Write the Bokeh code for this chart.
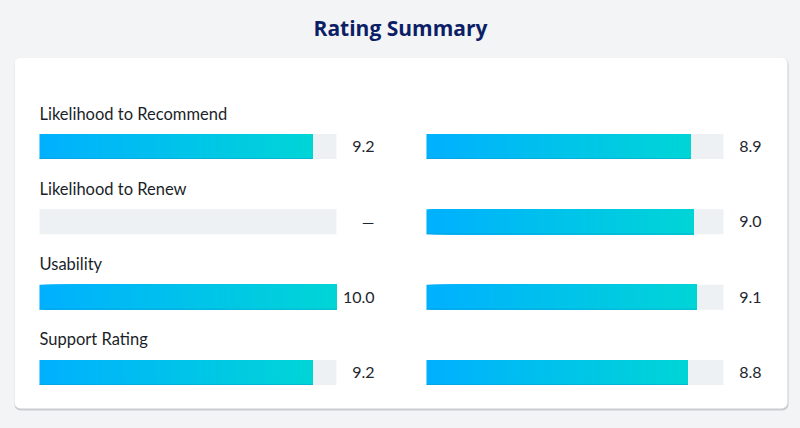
from bokeh.plotting import figure
from bokeh.models import Range1d, ColumnDataSource, BoxAnnotation, Label, GlobalInlineStyleSheet
from bokeh.core.properties import value
from bokeh.embed import file_html
from bokeh.resources import INLINE

# ---- data ----
title_text = "Rating Summary"
categories = ["Likelihood to Recommend", "Likelihood to Renew", "Usability", "Support Rating"]
left_scores = [9.2, None, 10.0, 9.2]
right_scores = [8.9, 9.0, 9.1, 8.8]
max_score = 10.0
missing_text = "—"

# ---- layout constants (pixels) ----
W, H = 800, 428
PX = 29.7          # pixels per rating unit
X0 = 39            # left track start, px
ROW = 75.33        # pixels per row
Y0 = 146           # row 0 centre, px
RIGHT_COL_PX = 426 # right track start, px
BAR_H = 25

def fx(px):
    return (px - X0) / PX

def fy(py):
    return (py - Y0) / ROW

right_off = fx(RIGHT_COL_PX)

p = figure(width=W, height=H, output_backend="svg", toolbar_location=None,
           x_range=Range1d(fx(0), fx(W)), y_range=Range1d(fy(H), fy(0)),
           min_border=0, outline_line_color=None)
p.axis.visible = False
p.grid.visible = False
p.background_fill_color = "#f3f4f6"
p.border_fill_color = "#f3f4f6"
p.stylesheets = [GlobalInlineStyleSheet(css="body { background: #f3f4f6; }")]

# card shadow + card
p.add_layout(BoxAnnotation(left=fx(14), right=fx(788), top=fy(58), bottom=fy(410),
                           fill_color="#c8c8cc", fill_alpha=0.9, line_color=None,
                           border_radius=6, level="underlay"))
p.add_layout(BoxAnnotation(left=fx(14), right=fx(787), top=fy(57), bottom=fy(408),
                           fill_color="#ffffff", fill_alpha=1.0, line_color="#e4e5e8",
                           line_width=1, border_radius=6, level="underlay"))

# title
p.add_layout(Label(x=fx(400), y=fy(27), text=title_text, text_align="center",
                   text_baseline="middle", text_font="Open Sans", text_font_style="bold",
                   text_font_size="21px", text_color="#0c1f66"))

half = (BAR_H / 2) / ROW
rows = list(range(len(categories)))

# tracks
tl, tr, tt, tb = [], [], [], []
for off in (0.0, right_off):
    for r in rows:
        tl.append(off); tr.append(off + max_score); tt.append(r - half); tb.append(r + half)
p.quad(left=tl, right=tr, top=tt, bottom=tb, fill_color="#edf1f4", line_color=None)

# gradient bars: layered slices, each running to the bar end, so no seams
c0 = (0, 176, 255)
c1 = (0, 213, 214)
N = 90
gl, gr, gt, gb, gc = [], [], [], [], []
for i in range(N):
    t = (i + 0.5) / N
    col = "#%02x%02x%02x" % tuple(int(round(a + (b - a) * t)) for a, b in zip(c0, c1))
    for off, scores in ((0.0, left_scores), (right_off, right_scores)):
        for r, v in zip(rows, scores):
            if v is None:
                continue
            gl.append(off + v * i / N)
            gr.append(off + v)
            gt.append(r - half)
            gb.append(r + half)
            gc.append(col)
p.quad(left=gl, right=gr, top=gt, bottom=gb, fill_color=gc, line_color=None)

# thin darker bottom edge
el, er, ey = [], [], []
for off, scores in ((0.0, left_scores), (right_off, right_scores)):
    for r, v in zip(rows, scores):
        if v is None:
            continue
        el.append(off); er.append(off + v); ey.append(r + half - 0.5 / ROW)
p.segment(x0=el, x1=er, y0=ey, y1=ey, line_color="#0a9ccc", line_alpha=0.5, line_width=1)

# category labels
lab_src = ColumnDataSource(dict(x=[0.0] * len(rows), y=[r - 33 / ROW for r in rows], text=categories))
p.text(x="x", y="y", text="text", source=lab_src, text_font=value("Lato"),
       text_font_size="16.5px", text_color="#1b1f2a", text_baseline="middle", text_align="left")

# value labels
vx, vy, vt = [], [], []
for off, scores in ((0.0, left_scores), (right_off, right_scores)):
    for r, v in zip(rows, scores):
        vx.append(off + max_score + 38 / PX)
        vy.append(r)
        vt.append(missing_text if v is None else f"{v:.1f}")
val_src = ColumnDataSource(dict(x=vx, y=vy, text=vt))
p.text(x="x", y="y", text="text", source=val_src, text_font=value("Lato"),
       text_font_size="16px", text_color="#23262e", text_baseline="middle", text_align="right")

open("out.html", "w").write(file_html(p, INLINE))
